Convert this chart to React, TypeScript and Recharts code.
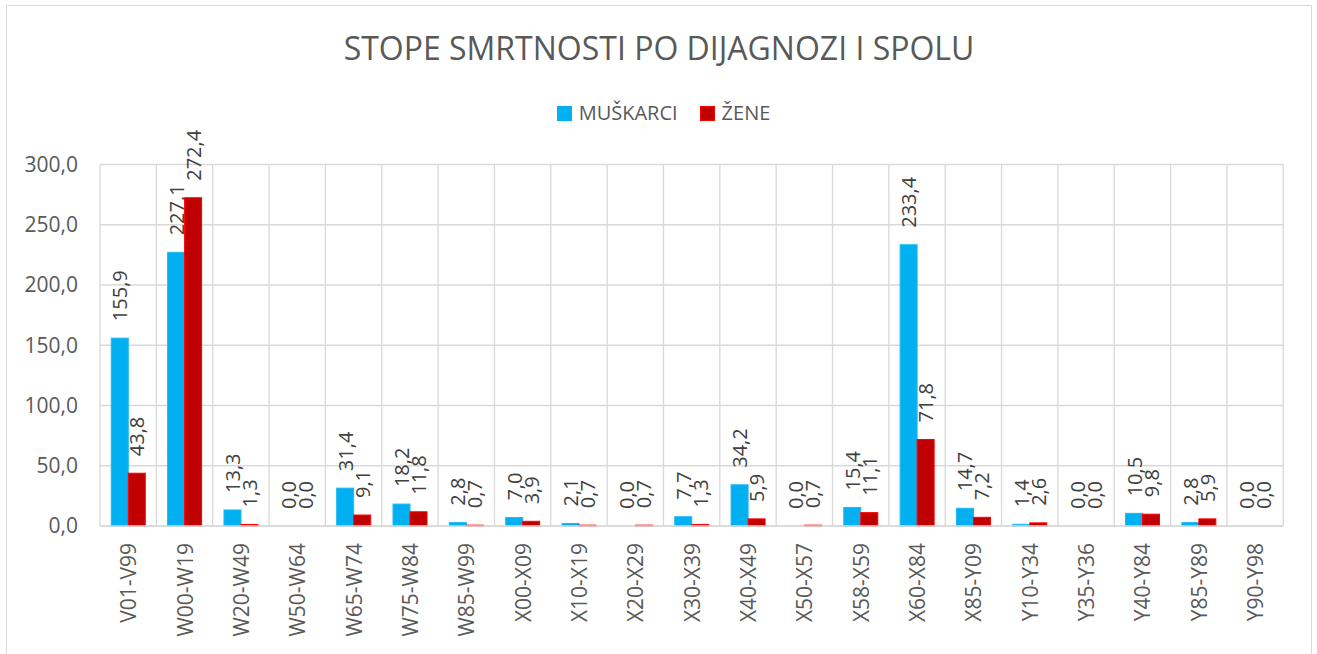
import React from 'react';
import { BarChart, Bar, XAxis, YAxis, CartesianGrid, Legend } from 'recharts';

const categories = ['V01-V99','W00-W19','W20-W49','W50-W64','W65-W74','W75-W84','W85-W99','X00-X09','X10-X19','X20-X29','X30-X39','X40-X49','X50-X57','X58-X59','X60-X84','X85-Y09','Y10-Y34','Y35-Y36','Y40-Y84','Y85-Y89','Y90-Y98'];
const muskarci = [155.9,227.1,13.3,0.0,31.4,18.2,2.8,7.0,2.1,0.0,7.7,34.2,0.0,15.4,233.4,14.7,1.4,0.0,10.5,2.8,0.0];
const zene = [43.8,272.4,1.3,0.0,9.1,11.8,0.7,3.9,0.7,0.7,1.3,5.9,0.7,11.1,71.8,7.2,2.6,0.0,9.8,5.9,0.0];
const yTicks = [0,50,100,150,200,250,300];
const seriesNames = ['MUŠKARCI','ŽENE'];
const title = 'STOPE SMRTNOSTI PO DIJAGNOZI I SPOLU';

const data = categories.map((c, i) => ({ cat: c, m: muskarci[i], z: zene[i] }));

const FONT = '"Open Sans", "Noto Sans", sans-serif';
const fmt = (v: number) => v.toFixed(1).replace('.', ',');

const XTick = (props: any) => {
  const { x, y, payload } = props;
  return (
    <g transform={`translate(${x},${y})`}>
      <text transform="rotate(-90)" textAnchor="end" dominantBaseline="central" fill="#595959" fontSize={21} fontFamily={FONT}>
        {payload.value}
      </text>
    </g>
  );
};

const makeShape = (fill: string, stroke: string) => (props: any) => {
  const { x, y, width, height, value } = props;
  const v = Array.isArray(value) ? value[1] - value[0] : value;
  const cx = Number(x) + Number(width) / 2;
  const cy = Number(y) - 17;
  return (
    <g>
      {height > 0 && (
        <rect x={x} y={y} width={width} height={height} fill={fill} stroke={stroke} strokeWidth={1} />
      )}
      <text x={cx} y={cy} transform={`rotate(-90 ${cx} ${cy})`} textAnchor="start" dominantBaseline="central" fill="#404040" fontSize={20} fontFamily={FONT}>
        {fmt(Number(v))}
      </text>
    </g>
  );
};

const LegendContent = () => {
  const colors = [{ fill: '#00B0F0', stroke: '#00B0F0' }, { fill: '#C00000', stroke: '#FF0000' }];
  return (
    <div style={{ display: 'flex', justifyContent: 'center', alignItems: 'center', fontFamily: FONT, fontSize: 20, color: '#595959', lineHeight: 1, paddingLeft: 9 }}>
      {seriesNames.map((n, i) => (
        <div key={n} style={{ display: 'flex', alignItems: 'center', marginRight: i === 0 ? 22 : 0 }}>
          <span style={{ display: 'inline-block', width: 13, height: 13, background: colors[i].fill, border: `1px solid ${colors[i].stroke}`, marginRight: 7 }} />
          <span>{n}</span>
        </div>
      ))}
    </div>
  );
};

const blueShape = makeShape('#00B0F0', '#1EB8F2');
const redShape = makeShape('#C00000', '#FF0000');

export default function App() {
  return (
    <div style={{ position: 'absolute', left: 6, top: 5, width: 1306, height: 649, border: '1px solid #D9D9D9', borderBottom: 'none', boxSizing: 'border-box', background: '#fff', fontFamily: FONT }}>
      <div style={{ position: 'absolute', left: 0, top: 26, width: 1304, textAlign: 'center', fontSize: 32, lineHeight: 1, color: '#595959', fontFamily: FONT }}>
        {title}
      </div>
      <BarChart
        width={1304}
        height={648}
        data={data}
        margin={{ top: 158.5, right: 27.7, left: 0, bottom: 18 }}
        barCategoryGap="20%"
        barGap={0}
      >
        <CartesianGrid
          stroke="#D9D9D9"
          strokeWidth={1.3}
          verticalCoordinatesGenerator={({ offset }: any) =>
            categories.map((_, i) => offset.left + (i * offset.width) / categories.length).concat([offset.left + offset.width])
          }
        />
        <XAxis
          dataKey="cat"
          interval={0}
          height={110}
          tickLine={false}
          tickSize={0}
          tickMargin={17}
          axisLine={{ stroke: '#D9D9D9', strokeWidth: 1.3 }}
          tick={<XTick />}
        />
        <YAxis
          width={93}
          domain={[0, 300]}
          ticks={yTicks}
          tickFormatter={fmt}
          axisLine={false}
          tickLine={false}
          tickSize={0}
          tickMargin={22}
          tick={{ fill: '#595959', fontSize: 21, fontFamily: FONT }}
          interval={0}
        />
        <Legend
          layout="horizontal"
          verticalAlign="middle"
          align="center"
          wrapperStyle={{ top: 97, left: 0, width: 1304 }}
          content={<LegendContent />}
        />
        <Bar dataKey="m" name={seriesNames[0]} fill="#00B0F0" isAnimationActive={false} shape={blueShape} />
        <Bar dataKey="z" name={seriesNames[1]} fill="#C00000" isAnimationActive={false} shape={redShape} />
      </BarChart>
    </div>
  );
}
